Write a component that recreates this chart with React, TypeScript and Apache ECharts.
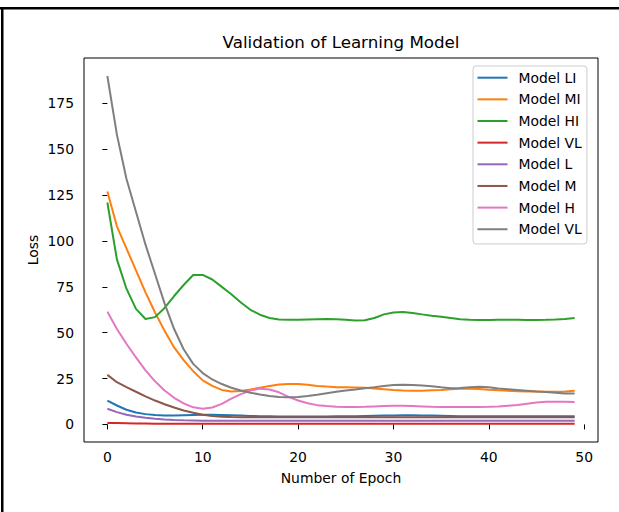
import React, { useEffect, useRef } from "react";
import * as echarts from "echarts";

const epochs: number[] = Array.from({ length: 50 }, (_, i) => i);

const modelLI = [13, 10.3, 8, 6.5, 5.6, 5.1, 4.9, 4.9, 5, 5.1, 5.2, 5.2, 5.1, 5, 4.8, 4.6, 4.5, 4.4, 4.3, 4.3, 4.3, 4.3, 4.3, 4.3, 4.4, 4.4, 4.5, 4.6, 4.7, 4.8, 4.9, 5, 5, 4.9, 4.8, 4.7, 4.6, 4.5, 4.5, 4.5, 4.4, 4.4, 4.4, 4.4, 4.4, 4.4, 4.4, 4.4, 4.4, 4.4];
const modelMI = [127, 108, 96, 84, 72, 61, 51, 42, 35, 29, 24, 21, 18.8, 18, 18.2, 19, 20, 21, 21.7, 22, 22, 21.6, 21, 20.6, 20.3, 20.2, 20.1, 20, 19.6, 19.2, 18.8, 18.5, 18.4, 18.4, 18.6, 18.8, 19.1, 19.4, 19.5, 19.3, 18.9, 18.6, 18.3, 18.1, 18, 17.9, 17.8, 17.8, 18, 18.3];
const modelHI = [121, 90, 74, 63, 57.5, 58.5, 63.5, 70, 76, 81.5, 81.5, 79, 75, 71, 66.5, 62.5, 59.8, 58, 57.2, 57, 57, 57.2, 57.4, 57.5, 57.3, 57, 56.7, 56.8, 58, 60, 61, 61.3, 60.8, 60, 59.3, 58.7, 58, 57.3, 57, 56.9, 56.9, 57, 57, 57, 56.9, 56.9, 57, 57.2, 57.5, 58];
const modelVL = [0.8, 0.7, 0.6, 0.5, 0.45, 0.4, 0.38, 0.35, 0.33, 0.32, 0.3, 0.3, 0.3, 0.3, 0.3, 0.3, 0.3, 0.3, 0.3, 0.3, 0.3, 0.3, 0.3, 0.3, 0.3, 0.3, 0.3, 0.3, 0.3, 0.3, 0.3, 0.3, 0.3, 0.3, 0.3, 0.3, 0.3, 0.3, 0.3, 0.3, 0.3, 0.3, 0.3, 0.3, 0.3, 0.3, 0.3, 0.3, 0.3, 0.3];
const modelL = [8.5, 6.7, 5.3, 4.3, 3.6, 3.1, 2.7, 2.4, 2.2, 2.1, 2, 2, 2, 2, 2, 2, 2, 2, 2, 2, 2, 2, 2, 2, 2, 2, 2, 2, 2, 2, 2, 2, 2, 2, 2, 2, 2, 2, 2, 2, 2, 2, 2, 2, 2, 2, 2, 2, 2, 2];
const modelM = [27, 23, 20.3, 17.8, 15.3, 13, 11, 9.2, 7.6, 6.3, 5.3, 4.6, 4.2, 4, 3.9, 3.9, 3.9, 3.9, 3.9, 3.9, 3.9, 3.9, 3.9, 3.9, 3.9, 3.9, 3.9, 3.9, 3.9, 3.9, 3.9, 3.9, 3.9, 3.9, 3.9, 3.9, 3.9, 3.9, 3.9, 3.9, 3.9, 3.9, 3.9, 3.9, 3.9, 3.9, 3.9, 3.9, 3.9, 3.9];
const modelH = [61.5, 52, 44, 36.5, 29.5, 23.5, 18.5, 14.5, 11.5, 9.3, 8.5, 9.2, 11.2, 14, 16.5, 18.5, 19.5, 19, 17.5, 15, 13, 11.5, 10.5, 10, 9.6, 9.5, 9.5, 9.6, 9.8, 10, 10.2, 10.2, 10, 9.8, 9.6, 9.5, 9.5, 9.5, 9.5, 9.5, 9.6, 9.8, 10.2, 10.6, 11.3, 12, 12.4, 12.4, 12.3, 12.2];
const modelVL2 = [190, 158, 134, 116, 98, 82, 66, 52, 41, 33, 28, 24.5, 22, 20, 18.5, 17.3, 16.3, 15.5, 15, 14.8, 15, 15.5, 16.2, 17, 17.8, 18.5, 19, 19.7, 20.3, 21, 21.5, 21.6, 21.5, 21.2, 20.8, 20.2, 19.7, 19.8, 20.3, 20.5, 20.2, 19.6, 19.2, 18.8, 18.4, 18, 17.7, 17.2, 16.8, 16.8];

const seriesNames = ["Model LI", "Model MI", "Model HI", "Model VL", "Model L", "Model M", "Model H", "Model VL"];
const seriesValues = [modelLI, modelMI, modelHI, modelVL, modelL, modelM, modelH, modelVL2];
const colors = ["#1f77b4", "#ff7f0e", "#2ca02c", "#d62728", "#9467bd", "#8c564b", "#e377c2", "#7f7f7f"];

const xTicks = [0, 10, 20, 30, 40, 50];
const yTicks = [0, 25, 50, 75, 100, 125, 150, 175];

const FONT = "DejaVu Sans";

export default function App() {
  const ref = useRef<HTMLDivElement>(null);
  useEffect(() => {
    if (!ref.current) return;
    const chart = echarts.init(ref.current, null, { renderer: "svg" });
    // unique internal ids so duplicate display names both get a legend row
    const ids = seriesNames.map((n, k) => `${n}#${k}`);
    const series = seriesValues.map((vals, k) => ({
      name: ids[k],
      type: "line",
      data: epochs.map((e, i) => [e, vals[i]]),
      showSymbol: false,
      smooth: false,
      lineStyle: { width: 2, color: colors[k] },
      itemStyle: { color: colors[k] },
      z: 2 + k,
    }));
    chart.setOption({
      animation: false,
      backgroundColor: "#ffffff",
      textStyle: { fontFamily: FONT },
      grid: {
        left: 84,
        top: 58,
        width: 514,
        height: 384,
        show: true,
        borderColor: "#000",
        borderWidth: 1,
        backgroundColor: "transparent",
        containLabel: false,
      },
      xAxis: {
        type: "value",
        min: -2.45,
        max: 51.45,
        axisLine: { show: false },
        splitLine: { show: false },
        axisTick: { show: true, customValues: xTicks, length: 5, lineStyle: { color: "#000", width: 1 } },
        axisLabel: { customValues: xTicks, margin: 8, fontSize: 13.9, color: "#000", fontFamily: FONT },
      },
      yAxis: {
        type: "value",
        min: -9.6,
        max: 199.8,
        axisLine: { show: false },
        splitLine: { show: false },
        axisTick: { show: true, customValues: yTicks, length: 5, lineStyle: { color: "#000", width: 1 } },
        axisLabel: { customValues: yTicks, margin: 10, fontSize: 13.9, color: "#000", fontFamily: FONT },
      },
      legend: {
        orient: "vertical",
        left: 473,
        top: 66,
        icon: "rect",
        itemWidth: 30,
        itemHeight: 2,
        itemGap: 7.65,
        padding: [4.7, 5, 7.7, 4.5],
        backgroundColor: "rgba(255,255,255,0.8)",
        borderColor: "#cccccc",
        borderWidth: 1,
        borderRadius: 3,
        formatter: (name: string) => name.replace(/#\d+$/, ""),
        textStyle: { fontSize: 13.9, color: "#000", fontFamily: FONT, lineHeight: 14, padding: [0, 0, 0, 6] },
        data: ids.map((n, k) => ({ name: n, itemStyle: { color: colors[k] } })),
      },
      graphic: [
        { type: "rect", shape: { x: 0, y: 7, width: 619, height: 2.5 }, style: { fill: "#000" } },
        { type: "rect", shape: { x: 1, y: 7, width: 2.5, height: 505 }, style: { fill: "#000" } },
        {
          type: "text",
          x: 341,
          y: 42,
          style: { text: "Validation of Learning Model", font: `16.7px "${FONT}"`, fill: "#000", textAlign: "center", textVerticalAlign: "middle" },
        },
        {
          type: "text",
          x: 341,
          y: 478,
          style: { text: "Number of Epoch", font: `13.9px "${FONT}"`, fill: "#000", textAlign: "center", textVerticalAlign: "middle" },
        },
        {
          type: "text",
          x: 33,
          y: 250,
          rotation: Math.PI / 2,
          style: { text: "Loss", font: `13.9px "${FONT}"`, fill: "#000", textAlign: "center", textVerticalAlign: "middle" },
        },
      ],
      series,
    });
    return () => chart.dispose();
  }, []);
  return <div ref={ref} style={{ position: "fixed", left: 0, top: 0, width: 619, height: 512 }} />;
}
